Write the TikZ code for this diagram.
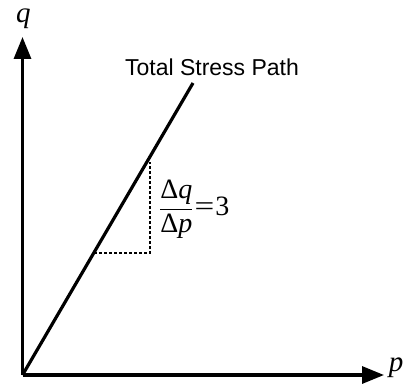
\documentclass[tikz,border=0pt]{standalone}
\usepackage{fontspec}
\usepackage{graphicx}
\setmainfont{Liberation Serif}
\newfontfamily\arialfont{Liberation Sans}
\usetikzlibrary{arrows.meta}
\begin{document}
\begin{tikzpicture}[x=1pt,y=-1pt,
  axis/.style={line width=3.2pt,-{Triangle[length=22pt,width=17pt]}},
  pathline/.style={line width=3.2pt},
  guide/.style={line width=1.4pt,dash pattern=on 3pt off 2pt},
  axlabel/.style={font=\fontsize{29}{31}\selectfont\itshape,inner sep=0pt}]
\useasboundingbox (0,0) rectangle (403,385);
\coordinate (O) at (22.5,375);
\coordinate (qtip) at (22.5,37);
\coordinate (ptip) at (384,375);
\coordinate (top) at (193,83);
\coordinate (a) at (94,253);
\coordinate (b) at (150,253);
\coordinate (c) at (150,162);
\draw[axis] (O) -- (qtip);
\draw[axis] (O) -- (ptip);
\draw[pathline] (O) -- (top);
\draw[guide] (a) -- (b) -- (c);
\node[axlabel] (qlab) at (23.5,19) {q};
\node[axlabel] (plab) at (396,368) {p};
\node[font=\arialfont\fontsize{23}{26}\selectfont,inner sep=0pt] (title) at (212,67) {Total Stress Path};
\node[anchor=west,inner sep=0pt,font=\fontsize{28}{30}\selectfont] (ratio) at (159,209)
  {$\displaystyle\frac{\mbox{Δ\itshape q}}{\mbox{Δ\itshape p}}\mbox{\kern1pt\scalebox{1.25}[1]{=}\kern1pt 3}$};
\end{tikzpicture}
\end{document}
